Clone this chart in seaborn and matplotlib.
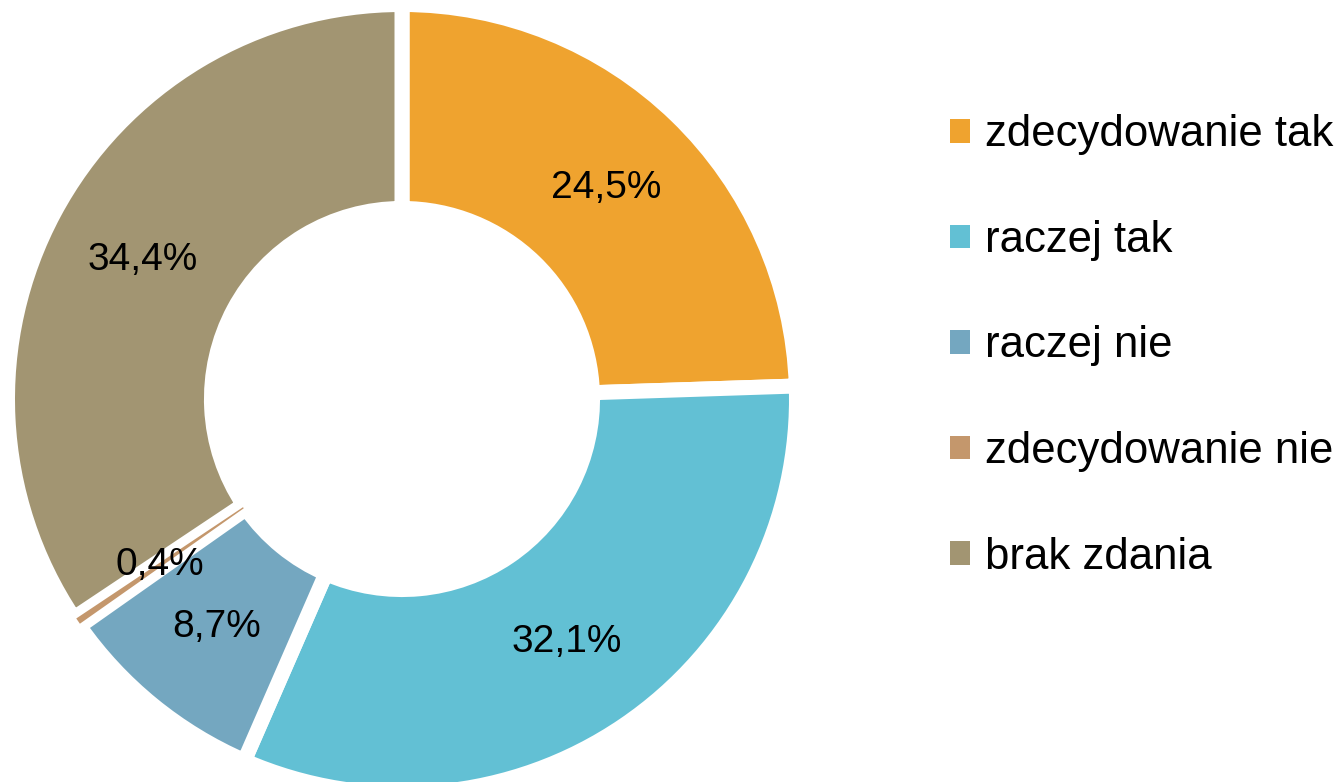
import matplotlib
matplotlib.use("Agg")
import matplotlib.pyplot as plt
from matplotlib.patches import Patch
import seaborn as sns

# ── DANE ──────────────────────────────────────────────────────────────────────
categories = ["zdecydowanie tak", "raczej tak", "raczej nie",
              "zdecydowanie nie", "brak zdania"]
values = [24.5, 32.1, 8.7, 0.4, 34.4]
colors = ["#EFA32F", "#62C0D4", "#74A7C0", "#C4976C", "#A29572"]

sns.set_theme(style="white")
plt.rcParams["font.family"] = ["Liberation Sans", "DejaVu Sans"]
plt.rcParams["text.color"] = "black"

W, H = 1337, 782
fig = plt.figure(figsize=(W / 100, H / 100), dpi=100)
ax = fig.add_axes([0, 0, 1, 1])

palette = sns.color_palette(colors)
R = 394.5
wedges, _, autotexts = ax.pie(
    values, colors=palette, startangle=90, counterclock=False,
    radius=R, center=(402, H - 399),
    autopct=lambda p: "", pctdistance=0.745,
    wedgeprops=dict(width=R * 0.517, edgecolor="white", linewidth=10.8),
    textprops=dict(fontsize=28, color="black"),
)
# cienki wycinek 0,4% – mniejsza ramka, żeby był widoczny
wedges[3].set_linewidth(2.5)
wedges[3].set_zorder(5)

for t, v in zip(autotexts, values):
    t.set_text(f"{v:.1f}".replace(".", ",") + "%")
    t.set_zorder(10)

ax.set_xlim(0, W)
ax.set_ylim(0, H)
ax.set_aspect("equal")
ax.axis("off")

handles = [Patch(facecolor=c, edgecolor="none") for c in palette]
fs = 31.5
px = fs * 100 / 72
fig.legend(handles, categories, loc="center left",
           bbox_to_anchor=(950 / W, (H - 346) / H),
           frameon=False, fontsize=fs, labelcolor="black",
           borderpad=0, borderaxespad=0,
           handlelength=20 / px, handleheight=20 / px,
           handletextpad=15 / px,
           labelspacing=1.475)

fig.savefig("out.png", dpi=100)
